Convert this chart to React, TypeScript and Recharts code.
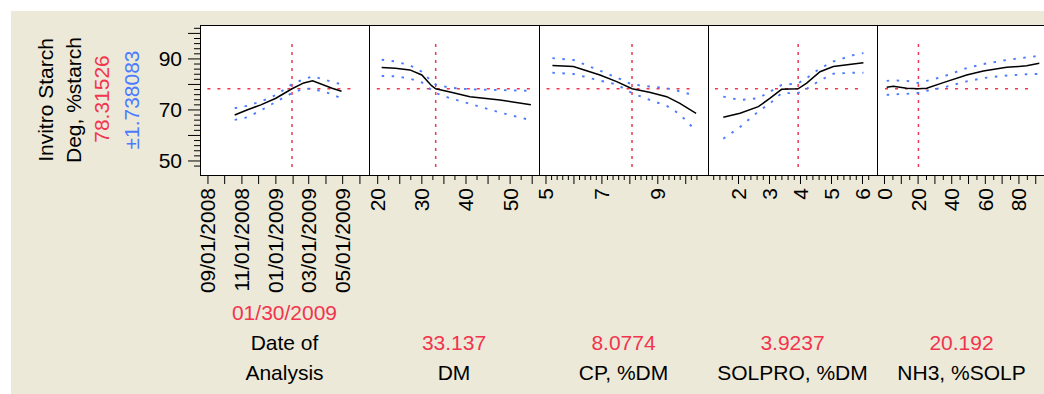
import React from "react";
import { LineChart, Line, XAxis, YAxis, ReferenceLine } from "recharts";

const BG = "#ECE9D8";
const RED = "#F2344E";
const BLUE = "#4A7BFF";
const FONT = '"Liberation Sans", Arial, sans-serif';
const FS = 21;

// response (shared y scale)
const PRED = 78.31526;
const PRED_TEXT = "78.31526";
const CI_TEXT = "±1.738083";
const Y_TITLE = ["Invitro Starch", "Deg, %starch"];
const Y_DOMAIN: [number, number] = [44.5, 103.3];
const Y_LABELS = [50, 70, 90];
const CROSS_Y: [number, number] = [47.6, 96.7];

const day = (s: string) => {
  const [m, d, y] = s.split("/").map(Number);
  return Date.UTC(y, m - 1, d) / 86400000;
};
const steps = (from: number, to: number, step: number) => {
  const out: number[] = [];
  for (let i = 0; from + i * step <= to + 1e-9; i++) out.push(+(from + i * step).toFixed(4));
  return out;
};
const near = (a: number, b: number) => Math.abs(a - b) < 1e-6;
const isMultiple = (v: number, m: number) => near(v / m, Math.round(v / m));

// Date of Analysis
const DATE_X = ["10/19/2008", "11/10/2008", "12/05/2008", "01/01/2009", "01/30/2009", "02/20/2009", "03/08/2009", "04/12/2009", "04/29/2009"];
const DATE_MEAN = [68.0, 70.0, 72.0, 74.6, 78.3, 80.6, 81.4, 78.5, 77.3];
const DATE_UPPER = [70.7, 71.6, 73.3, 75.8, 80.1, 82.0, 83.2, 81.0, 80.0];
const DATE_LOWER = [66.1, 67.1, 69.8, 73.2, 76.6, 78.4, 78.3, 76.2, 74.5];
const DATE_MONTHS = ["09/01/2008", "10/01/2008", "11/01/2008", "12/01/2008", "01/01/2009", "02/01/2009", "03/01/2009", "04/01/2009", "05/01/2009", "06/01/2009"];
const DATE_TICK_LABELS = ["09/01/2008", "11/01/2008", "01/01/2009", "03/01/2009", "05/01/2009"];

// DM
const DM_X = [20.9, 24.0, 27.3, 30.0, 32.2, 33.14, 36.4, 40.9, 47.7, 54.7];
const DM_MEAN = [86.6, 86.3, 85.7, 83.7, 79.5, 78.3, 77.0, 75.2, 73.9, 72.0];
const DM_UPPER = [89.7, 89.0, 87.5, 85.0, 81.2, 80.0, 78.7, 78.1, 77.8, 77.5];
const DM_LOWER = [83.3, 83.2, 82.3, 80.8, 77.8, 76.6, 74.6, 72.4, 69.0, 66.0];
const DM_TICK_LABELS = [20, 30, 40, 50];

// CP, %DM
const CP_X = [5.23, 5.98, 6.93, 7.53, 8.08, 8.7, 9.32, 9.79, 10.37];
const CP_MEAN = [87.4, 87.0, 83.7, 81.1, 78.3, 76.9, 75.2, 72.6, 68.7];
const CP_UPPER = [90.3, 89.6, 85.4, 82.7, 80.0, 79.2, 78.5, 77.3, 75.5];
const CP_LOWER = [84.6, 84.1, 81.5, 80.0, 76.6, 74.0, 71.6, 68.3, 61.8];
const CP_TICK_LABELS = [5, 7, 9];

// SOLPRO, %DM
const SOL_X = [1.51, 2.05, 2.64, 3.02, 3.39, 3.92, 4.2, 4.63, 5.06, 5.7, 6.03];
const SOL_MEAN = [67.1, 68.7, 71.3, 74.6, 78.1, 78.3, 80.5, 85.0, 87.0, 88.0, 88.5];
const SOL_UPPER = [75.2, 73.9, 74.6, 77.2, 79.8, 80.4, 82.5, 86.3, 89.0, 91.5, 92.3];
const SOL_LOWER = [58.7, 63.3, 69.4, 72.6, 76.6, 76.6, 78.3, 81.6, 84.2, 84.6, 84.6];
const SOL_TICK_LABELS = [2, 3, 4, 5, 6];

// NH3, %SOLP
const NH3_X = [1.3, 5.2, 13.2, 20.2, 25.1, 35, 48.9, 58.8, 72.7, 84.6, 92.1];
const NH3_MEAN = [78.9, 79.3, 78.5, 78.3, 78.5, 80.7, 83.7, 85.3, 86.7, 87.3, 88.3];
const NH3_UPPER = [81.4, 81.6, 81.4, 80.6, 81.4, 83.1, 86.4, 88.0, 89.6, 90.6, 91.2];
const NH3_LOWER = [75.9, 76.1, 76.3, 76.7, 77.5, 78.8, 81.2, 82.5, 83.5, 84.0, 84.1];
const NH3_TICK_LABELS = [0, 20, 40, 60, 80];

type Panel = {
  left: number;
  right: number;
  domain: [number, number];
  xs: number[];
  mean: number[];
  upper: number[];
  lower: number[];
  ticks: number[];
  isMajor: (v: number) => boolean;
  labels: { value: number; text: string }[];
  current: number;
  currentText: string;
  crossX: [number, number];
  title: string[];
};

const SEP1 = day("09/01/2008");

const PANELS: Panel[] = [
  {
    left: 200, right: 369,
    domain: [SEP1 - 14.3, SEP1 + 289.3],
    xs: DATE_X.map(day), mean: DATE_MEAN, upper: DATE_UPPER, lower: DATE_LOWER,
    ticks: DATE_MONTHS.map(day),
    isMajor: () => true,
    labels: DATE_TICK_LABELS.map((t) => ({ value: day(t), text: t })),
    current: day("01/30/2009"), currentText: "01/30/2009",
    crossX: [SEP1 - 1, day("05/19/2009")],
    title: ["Date of", "Analysis"],
  },
  {
    left: 369, right: 539,
    domain: [18.03, 56.54],
    xs: DM_X, mean: DM_MEAN, upper: DM_UPPER, lower: DM_LOWER,
    ticks: steps(20, 55, 2.5),
    isMajor: (v) => isMultiple(v, 5),
    labels: DM_TICK_LABELS.map((v) => ({ value: v, text: String(v) })),
    current: 33.137, currentText: "33.137",
    crossX: [19.8, 54.5],
    title: ["DM"],
  },
  {
    left: 539, right: 708,
    domain: [4.75, 10.796],
    xs: CP_X, mean: CP_MEAN, upper: CP_UPPER, lower: CP_LOWER,
    ticks: steps(5, 10.4, 0.2),
    isMajor: (v) => isMultiple(v, 1),
    labels: CP_TICK_LABELS.map((v) => ({ value: v, text: String(v) })),
    current: 8.0774, currentText: "8.0774",
    crossX: [5.02, 10.21],
    title: ["CP, %DM"],
  },
  {
    left: 708, right: 877,
    domain: [1.016, 6.468],
    xs: SOL_X, mean: SOL_MEAN, upper: SOL_UPPER, lower: SOL_LOWER,
    ticks: steps(1.2, 6.2, 0.2),
    isMajor: (v) => isMultiple(v, 1),
    labels: SOL_TICK_LABELS.map((v) => ({ value: v, text: String(v) })),
    current: 3.9237, currentText: "3.9237",
    crossX: [1.24, 5.99],
    title: ["SOLPRO, %DM"],
  },
  {
    left: 877, right: 1046,
    domain: [-4.46, 96.1],
    xs: NH3_X, mean: NH3_MEAN, upper: NH3_UPPER, lower: NH3_LOWER,
    ticks: steps(0, 90, 5),
    isMajor: (v) => isMultiple(v, 10),
    labels: NH3_TICK_LABELS.map((v) => ({ value: v, text: String(v) })),
    current: 20.192, currentText: "20.192",
    crossX: [0.3, 86.7],
    title: ["NH3, %SOLP"],
  },
];

const PLOT_TOP = 25;
const PLOT_H = 150;
const AXIS_H = 125;
const Y_W = 50;
const PAD = 12; // side margin so rotated tick labels near the panel edges are not clipped

function XTick(props: any) {
  const { x, y, payload, panel } = props;
  const v = payload.value as number;
  const len = panel.isMajor(v) ? 9 : 5;
  const lab = panel.labels.find((l: { value: number }) => near(l.value, v));
  return (
    <g>
      <line x1={x} x2={x} y1={y} y2={y + len} stroke="#000" strokeWidth={1} />
      {lab && (
        <text
          transform={`translate(${x},${y + 13}) rotate(-90)`}
          textAnchor="end"
          dominantBaseline="central"
          fontFamily={FONT}
          fontSize={FS}
          fill="#000"
        >
          {lab.text}
        </text>
      )}
    </g>
  );
}

function YTick(props: any) {
  const { x, y, payload } = props;
  const v = payload.value as number;
  const len = v % 10 === 0 ? 12 : 6;
  return (
    <g>
      <line x1={x - len} x2={x} y1={y} y2={y} stroke="#000" strokeWidth={1} />
      {Y_LABELS.includes(v) && (
        <text x={x - 18} y={y} textAnchor="end" dominantBaseline="central" fontFamily={FONT} fontSize={FS} fill="#000">
          {v}
        </text>
      )}
    </g>
  );
}

function ProfilePanel({ panel, first }: { panel: Panel; first: boolean }) {
  const data = panel.xs.map((x, i) => ({ x, mean: panel.mean[i], upper: panel.upper[i], lower: panel.lower[i] }));
  const yW = first ? Y_W : 0;
  const w = panel.right - panel.left;
  return (
    <>
      <div
        style={{
          position: "absolute",
          left: panel.left,
          top: PLOT_TOP,
          width: w + 1,
          height: PLOT_H + 1,
          boxSizing: "border-box",
          border: "1px solid #000",
          background: "#fff",
        }}
      />
      <div style={{ position: "absolute", left: panel.left - yW - PAD, top: PLOT_TOP }}>
        <LineChart
          width={w + yW + 2 * PAD}
          height={PLOT_H + AXIS_H}
          data={data}
          margin={{ top: 0, right: PAD, bottom: 0, left: PAD }}
        >
          <XAxis
            type="number"
            dataKey="x"
            domain={panel.domain}
            allowDataOverflow
            ticks={panel.ticks}
            interval={0}
            axisLine={false}
            tickLine={false}
            tickSize={0}
            tickMargin={0}
            height={AXIS_H}
            tick={(t: any) => <XTick {...t} panel={panel} />}
          />
          <YAxis
            type="number"
            domain={Y_DOMAIN}
            allowDataOverflow
            hide={!first}
            width={yW}
            ticks={steps(48, 102, 2)}
            interval={0}
            axisLine={false}
            tickLine={false}
            tickSize={0}
            tickMargin={0}
            tick={(t: any) => <YTick {...t} />}
          />
          <ReferenceLine
            segment={[{ x: panel.crossX[0], y: PRED }, { x: panel.crossX[1], y: PRED }]}
            stroke={RED}
            strokeWidth={1.5}
            strokeDasharray="3 7"
          />
          <ReferenceLine
            segment={[{ x: panel.current, y: CROSS_Y[0] }, { x: panel.current, y: CROSS_Y[1] }]}
            stroke={RED}
            strokeWidth={1.5}
            strokeDasharray="3 5"
          />
          <Line type="linear" dataKey="upper" stroke={BLUE} strokeWidth={1.9} strokeDasharray="2.5 7.5" dot={false} isAnimationActive={false} />
          <Line type="linear" dataKey="lower" stroke={BLUE} strokeWidth={1.9} strokeDasharray="2.5 7.5" dot={false} isAnimationActive={false} />
          <Line type="linear" dataKey="mean" stroke="#000" strokeWidth={1.5} dot={false} isAnimationActive={false} />
        </LineChart>
      </div>
      <PanelLabels panel={panel} />
    </>
  );
}

function PanelLabels({ panel }: { panel: Panel }) {
  const center = (panel.left + panel.right) / 2;
  const lineH = 30;
  const lastY = 372.7;
  const lines = panel.title;
  const valueY = lastY - lines.length * lineH;
  const box = (cy: number, color: string, text: string, key: string) => (
    <div
      key={key}
      style={{
        position: "absolute",
        left: center - 82,
        width: 164,
        top: cy - lineH / 2,
        height: lineH,
        lineHeight: `${lineH}px`,
        whiteSpace: "nowrap",
        textAlign: "center",
        color,
        fontFamily: FONT,
        fontSize: FS,
      }}
    >
      {text}
    </div>
  );
  return (
    <>
      {box(valueY, RED, panel.currentText, "v")}
      {lines.map((l, i) => box(lastY - (lines.length - 1 - i) * lineH, "#000", l, "t" + i))}
    </>
  );
}

export default function App() {
  return (
    <div style={{ position: "absolute", left: 0, top: 0, width: 1044, height: 394, overflow: "hidden", background: "#fff" }}>
      <div style={{ position: "absolute", left: 11, top: 11, right: 0, bottom: 0, background: BG }} />
      <svg style={{ position: "absolute", left: 0, top: 0 }} width={160} height={200}>
        {[
          { x: 45, y: 100, text: Y_TITLE[0], color: "#000" },
          { x: 73.5, y: 100, text: Y_TITLE[1], color: "#000" },
          { x: 101.5, y: 99, text: PRED_TEXT, color: RED },
          { x: 131.5, y: 100, text: CI_TEXT, color: BLUE },
        ].map((t) => (
          <text
            key={t.text}
            transform={`translate(${t.x},${t.y}) rotate(-90)`}
            textAnchor="middle"
            dominantBaseline="central"
            fontFamily={FONT}
            fontSize={FS}
            fill={t.color}
          >
            {t.text}
          </text>
        ))}
      </svg>
      {PANELS.map((p, i) => (
        <ProfilePanel key={i} panel={p} first={i === 0} />
      ))}
    </div>
  );
}
